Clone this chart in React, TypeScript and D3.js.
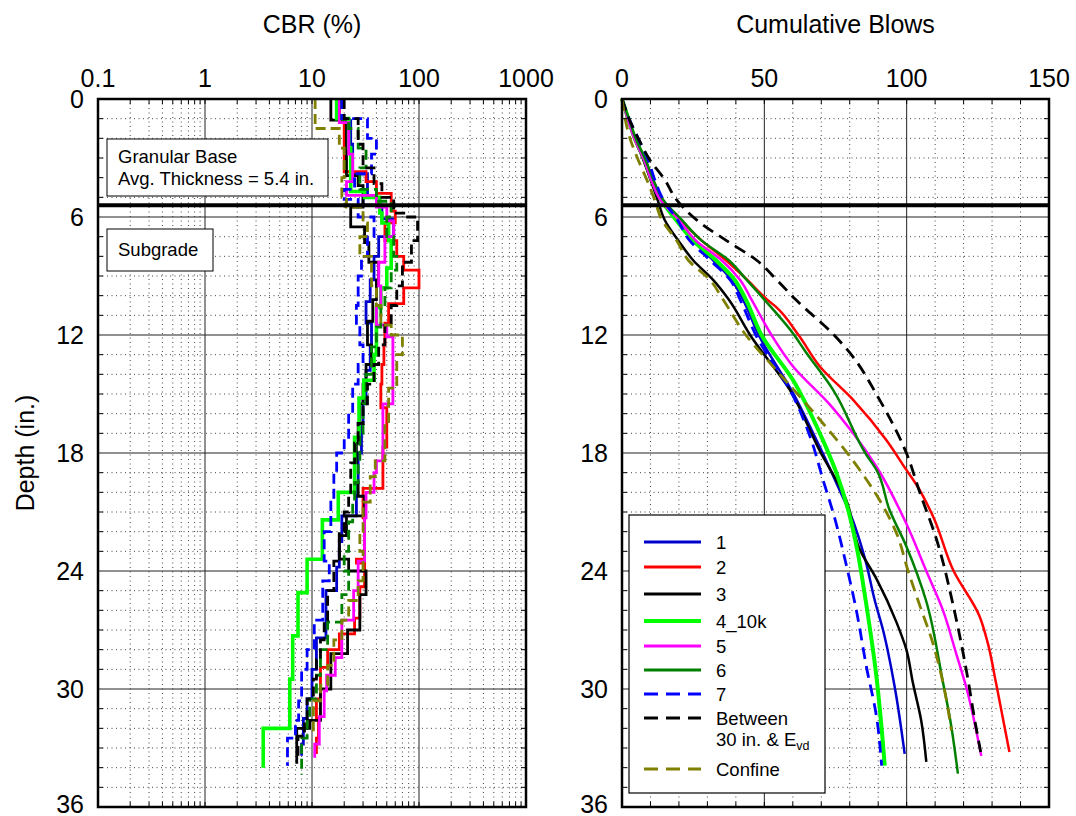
import React from 'react';
import * as d3 from 'd3';

// ---------- Data ----------
const seriesNames = ['1', '2', '3', '4_10k', '5', '6', '7', 'Between', 'Confine'];

const depthTicks = [0, 6, 12, 18, 24, 30, 36];
const cbrTicks = [0.1, 1, 10, 100, 1000];
const cbrTickLabels = ['0.1', '1', '10', '100', '1000'];
const blowTicks = [0, 50, 100, 150];
const baseThickness = 5.4;

// CBR step profiles: [depth at top of step (in.), CBR (%)]
const cbr1 = [[0,18],[1.1,23],[2.3,24],[3.8,33],[4.9,30],[5.4,45],[6.1,58],[7.0,42],[8.0,38],[9.2,35],[10.3,32],[11.4,36],[12.6,35],[13.8,32],[15.2,30],[16.5,29],[18.0,27],[19.5,26],[21.2,19],[22.5,18],[23.8,17],[25.0,13.5],[27.4,11],[29.0,10],[30.5,9],[31.5,8.3],[32.8,8]];
const cbr2 = [[0,18],[1.0,20],[3.7,32],[4.2,40],[4.8,55],[5.7,60],[6.3,48],[7.2,62],[8.0,72],[8.7,100],[9.6,72],[10.4,52],[11.4,48],[12.5,47],[13.5,45],[14.5,44],[15.7,50],[17.7,46],[19.8,30],[21.3,31],[23.4,26],[23.6,31],[24.8,28],[26.4,25],[27.2,18],[28.0,14],[28.9,12],[30.5,11],[31.5,11.5],[32.5,11]];
const cbr3 = [[0,15],[1.07,21],[3.9,27],[4.4,30],[5.5,23],[6.5,31],[7.3,34],[8.3,42],[9.2,40],[10.2,37],[11.3,33],[12.5,36],[13.5,32],[14.5,30],[15.5,28],[16.5,27],[17.5,26],[18.5,25],[19.5,27],[20.2,31],[21.2,21],[22.2,18],[23.4,22],[24.0,32],[25.2,28],[27.0,21.5],[28.2,15],[30.0,12],[31.6,9.5],[32.0,7.2]];
const cbr4 = [[0,17],[1.0,22],[2.5,23],[4.7,31],[5.0,43],[5.8,45],[6.3,52],[7.2,55],[8.6,50],[9.6,44],[10.6,40],[12.0,40],[13.0,38],[14.3,30.5],[15.2,27.5],[17.2,25],[20.0,17.6],[21.4,12.5],[23.4,9],[25.1,7.4],[27.3,6.6],[29.5,6.2],[32.0,3.5]];
const cbr5 = [[0,18],[1.2,22],[2.8,24],[4.2,21],[4.9,40],[5.5,50],[6.2,58],[7.0,48],[8.3,42],[9.5,44],[10.5,40],[11.5,50],[12.1,57],[15.5,46],[18.4,40],[19.0,38],[20.0,32],[21.3,31],[23.5,27],[25.0,24.5],[26.5,19],[28.4,16.5],[29.3,13.7],[30.1,13],[31.4,11.7],[32.8,10.6]];
const cbr6 = [[0,19],[1.0,22],[1.5,27],[2.5,32],[3.5,28],[4.6,40],[5.2,55],[6.0,50],[7.0,58],[8.0,62],[8.7,55],[9.6,48],[10.6,44],[11.6,40],[12.6,36],[14.0,32],[15.5,30],[17.0,28],[18.5,27],[19.5,25],[20.5,24],[21.5,22],[23.0,20],[24.0,22],[25.2,19],[26.6,14],[28.0,12],[29.3,11],[30.5,9.5],[31.5,9],[32.5,8]];
const cbr7 = [[0,19],[1.0,33],[2.0,40],[2.8,36],[3.8,25],[4.6,20],[5.1,27],[6.0,38],[7.0,33],[8.0,29],[9.0,27],[10.5,26],[11.5,28],[12.5,30],[13.5,27],[14.5,24],[16.0,22],[17.2,20],[18.0,17],[19.0,16],[20.5,15],[22.0,13],[23.5,14.5],[24.5,12.6],[26.5,10.5],[28.0,9],[29.0,8],[30.6,7.5],[31.6,7],[32.5,5.9]];
const cbrBetween = [[0,20],[1.0,27],[2.3,30],[3.5,38],[4.3,45],[5.0,58],[5.8,75],[6.0,97],[7.2,85],[8.3,70],[9.5,62],[10.5,55],[11.5,48],[12.5,42],[13.5,38],[14.5,33],[15.5,30],[16.5,27],[17.5,25],[18.5,23],[20.0,22],[21.0,20],[22.0,18],[23.5,16],[25.0,14],[26.5,13],[27.5,12],[28.5,11],[29.5,10.3],[30.5,9],[31.6,8.5],[32.4,7.4]];
const cbrConfine = [[0,10.7],[1.5,18],[2.5,20],[4.0,19],[5.0,21],[5.5,30],[6.3,33],[7.0,28],[8.0,36],[9.5,40],[10.5,44],[11.5,55],[12.0,70],[13.0,62],[14.7,52],[16.4,48],[18.4,39],[19.2,35],[20.5,30],[22.0,28],[23.0,30],[24.5,27],[25.5,22],[26.5,19],[27.5,16],[28.8,14],[29.8,12],[30.6,10.3]];
const cbrEndDepths = [33.4, 33.3, 33.8, 34.0, 33.5, 34.35, 33.9, 33.4, 32.2];

// Cumulative blows: [depth (in.), blows]
const blows1 = [[0,0],[1,2.2],[2,4.6],[3.1,8],[4.1,10.8],[5.13,14],[6.15,19.8],[7.2,25],[8.2,32],[9.2,38.5],[10.2,42.5],[12,48],[14.95,60.1],[17.7,69.5],[19.9,76.5],[21.2,80.5],[23.45,85.5],[25.5,88.8],[27,91.7],[29.9,95.8],[33.3,99.3]];
const blows2 = [[0,0],[1,2.2],[2,4.5],[3.1,7.8],[4.1,10.5],[5.13,14],[6.15,20.5],[7.2,28],[8.2,36.5],[9.2,44],[10.2,51],[10.56,54],[12,62],[13.6,69.5],[15.3,81.2],[17.35,92.9],[18.86,99.9],[19.6,103.4],[21.2,109.2],[24,116.5],[26.3,125.6],[27.67,128.5],[29.7,131.4],[33.2,136.1]];
const blows3 = [[0,0],[1,2],[2,4.3],[3.1,7.5],[4.1,10],[5.13,12.5],[6.15,15],[7.2,19.8],[8.2,25],[9.2,32],[10.2,37.5],[12,45],[14.8,59],[17.9,69.5],[20.4,78.8],[22.9,83.5],[24.4,89.4],[26.6,96.4],[28.0,99.9],[29.7,102.2],[31.6,105.1],[33.7,106.9]];
const blows4 = [[0,0],[1,2.2],[2,4.5],[3.1,8],[4.1,10.5],[5.13,13.8],[6.15,19],[7.2,25],[8.2,33],[9.2,39.6],[10.2,43.5],[12,49],[14.3,60.1],[17,69.5],[19,75.3],[21.2,80],[22.9,82.6],[25.5,85.6],[29.4,89.4],[33.9,92.3]];
const blows5 = [[0,0],[1,2],[2,4.3],[3.1,7.8],[4.1,10.2],[5.13,13.5],[6.15,20],[7.2,26],[8.2,35],[9.2,41.5],[10.2,45.5],[12,52.5],[13.6,60.1],[15.5,72.8],[17,81.2],[18.7,89.4],[21.6,99.9],[24,106.9],[25.98,112.7],[28.2,117.4],[29.9,120.9],[33.4,126.2]];
const blows6 = [[0,0],[1,2.4],[2,4.8],[3.1,8.3],[4.1,11],[5.13,14.5],[6.15,21],[7.2,28],[8.2,37.5],[9.2,43.8],[10.2,50],[12,60.5],[12.75,64],[14.8,74.2],[18.1,85.9],[18.86,89.4],[20.9,94],[22.75,99.9],[25.5,106.8],[29.7,112.8],[31.4,115.1],[34.3,118]];
const blows7 = [[0,0],[1,2.5],[2,5.7],[3.1,9.2],[4.1,11.5],[5.13,14.5],[6.15,19.5],[7.2,23.8],[8.2,31],[9.2,38],[10.2,41.5],[12,47],[15.1,60.1],[17.3,66.4],[19.4,70.7],[21.2,74.5],[23.7,78.8],[25.98,82.3],[28.9,85.9],[31.4,89.4],[33.9,91.2]];
const blowsBetween = [[0,0],[1,2.5],[2,5.7],[3.1,9.8],[4.1,15],[5.13,19.2],[6.15,26.2],[7.2,36.7],[8.2,47.3],[9.2,54.4],[10.2,61],[12,74.5],[12.9,80],[15.3,90.5],[18,99.9],[20,104.6],[22.4,110.5],[25.98,116.7],[29.4,121.4],[31.4,123.7],[33.2,126]];
const blowsConfine = [[0,0],[1,1.1],[2,2.8],[3.1,5.7],[4.1,8.7],[5.13,11.5],[6.15,14],[7.2,19.2],[8.2,23.3],[9.2,30.9],[10.2,35.5],[12,43.5],[13.8,54.3],[16.3,69.5],[18.4,81.2],[20.7,91.7],[22.1,96.5],[24,100.5],[25.5,104],[27.67,109.2],[29.7,112.8],[32.1,115.7]];

const cbrSeries = [cbr1, cbr2, cbr3, cbr4, cbr5, cbr6, cbr7, cbrBetween, cbrConfine];
const blowSeries = [blows1, blows2, blows3, blows4, blows5, blows6, blows7, blowsBetween, blowsConfine];

// ---------- Styles ----------
const colors = ['#0000CD', '#FF0000', '#000000', '#00FF00', '#FF00FF', '#008000', '#0000FF', '#000000', '#808000'];
const dashedRight = [false, false, false, false, false, false, true, true, true];
const dashedLeft = [false, false, false, false, false, true, true, true, true];

const FONT = 'Liberation Sans, Arial, Helvetica, sans-serif';

export default function App() {
  const L = { left: 98, right: 526, top: 99, bottom: 807 };
  const R = { left: 622, right: 1049, top: 99, bottom: 807 };

  const xCbr = d3.scaleLog().domain([0.1, 1000]).range([L.left, L.right]);
  const xBl = d3.scaleLinear().domain([0, 150]).range([R.left, R.right]);
  const y = d3.scaleLinear().domain([0, 36]).range([L.top, L.bottom]);

  const cbrMinor: number[] = [];
  for (let e = -1; e < 3; e++) for (let k = 2; k <= 9; k++) cbrMinor.push(k * Math.pow(10, e));
  const depthMinor = d3.range(1, 36).filter((d) => d % 6 !== 0);
  const blowMinor = d3.range(10, 150, 10).filter((b) => b % 50 !== 0);

  const stepPath = (steps: number[][], end: number) => {
    const pts: [number, number][] = [];
    steps.forEach((s, i) => {
      const next = i < steps.length - 1 ? steps[i + 1][0] : end;
      pts.push([xCbr(s[1]), y(s[0])]);
      pts.push([xCbr(s[1]), y(next)]);
    });
    return d3.line()(pts) as string;
  };

  const curveLine = d3
    .line<number[]>()
    .x((d) => xBl(d[1]))
    .y((d) => y(d[0]))
    .curve(d3.curveMonotoneY);

  const dot = '1,3.5';
  const gridMinor = '#444';
  const gridMajor = '#222';
  const tl = 5;

  const panelGrid = (
    P: typeof L,
    xs: number[],
    xsMajor: number[],
    xf: (v: number) => number,
    key: string
  ) => (
    <g key={key}>
      {xs.map((v) => (
        <line key={'xm' + v} x1={xf(v)} x2={xf(v)} y1={P.top} y2={P.bottom} stroke={gridMinor} strokeWidth={1} strokeDasharray={dot} />
      ))}
      {depthMinor.map((d) => (
        <line key={'ym' + d} x1={P.left} x2={P.right} y1={y(d)} y2={y(d)} stroke={gridMinor} strokeWidth={1} strokeDasharray={dot} />
      ))}
      {xsMajor.map((v) => (
        <line key={'xM' + v} x1={xf(v)} x2={xf(v)} y1={P.top} y2={P.bottom} stroke={gridMajor} strokeWidth={1} />
      ))}
      {depthTicks.slice(1, -1).map((d) => (
        <line key={'yM' + d} x1={P.left} x2={P.right} y1={y(d)} y2={y(d)} stroke={gridMajor} strokeWidth={1} />
      ))}
    </g>
  );

  const panelTicks = (P: typeof L, xs: number[], xf: (v: number) => number, key: string) => (
    <g key={key} stroke="#000" strokeWidth={1}>
      {xs.map((v) => (
        <g key={'t' + v}>
          <line x1={xf(v)} x2={xf(v)} y1={P.top} y2={P.top + tl} />
          <line x1={xf(v)} x2={xf(v)} y1={P.bottom} y2={P.bottom - tl} />
        </g>
      ))}
      {depthMinor.map((d) => (
        <g key={'d' + d}>
          <line x1={P.left} x2={P.left + tl} y1={y(d)} y2={y(d)} />
          <line x1={P.right} x2={P.right - tl} y1={y(d)} y2={y(d)} />
        </g>
      ))}
    </g>
  );

  const legendRowsY = [542, 567, 594, 621, 646, 670, 694, 718, 769];
  // the lowest depth label sits against the bottom edge; keep it inside the canvas
  const depthLabelY = (d: number) => Math.min(y(d), 804);

  return (
    <svg
      width={1076}
      height={816}
      style={{ position: 'absolute', left: 0, top: 0, background: '#fff' }}
      fontFamily={FONT}
    >
      <rect x={0} y={0} width={1076} height={816} fill="#fff" />

      {/* grids */}
      {panelGrid(L, cbrMinor.filter((v) => v > 0.1 && v < 1000), [1, 10, 100], (v) => xCbr(v), 'gl')}
      {panelGrid(R, blowMinor, [50, 100], (v) => xBl(v), 'gr')}

      {/* left panel data */}
      <g fill="none">
        {cbrSeries.map((s, i) => (
          <path
            key={'c' + i}
            d={stepPath(s, cbrEndDepths[i])}
            stroke={colors[i]}
            strokeWidth={i === 3 ? 3.6 : 2.8}
            strokeDasharray={dashedLeft[i] ? '10,5' : undefined}
            strokeLinejoin="miter"
          />
        ))}
      </g>

      {/* right panel data */}
      <g fill="none">
        {blowSeries.map((s, i) => (
          <path
            key={'b' + i}
            d={curveLine(s) as string}
            stroke={colors[i]}
            strokeWidth={i === 3 ? 4 : dashedRight[i] ? 2.8 : 2.5}
            strokeDasharray={dashedRight[i] ? '12,7' : undefined}
          />
        ))}
      </g>

      {/* base thickness line */}
      <line x1={L.left} x2={L.right} y1={y(baseThickness)} y2={y(baseThickness)} stroke="#000" strokeWidth={4} />
      <line x1={R.left} x2={R.right} y1={y(baseThickness)} y2={y(baseThickness)} stroke="#000" strokeWidth={4} />

      {/* ticks & frames */}
      {panelTicks(L, cbrMinor.filter((v) => v > 0.1 && v < 1000).concat([1, 10, 100]), (v) => xCbr(v), 'tl')}
      {panelTicks(R, blowMinor.concat([50, 100]), (v) => xBl(v), 'tr')}
      <rect x={L.left} y={L.top} width={L.right - L.left} height={L.bottom - L.top} fill="none" stroke="#000" strokeWidth={2.5} />
      <rect x={R.left} y={R.top} width={R.right - R.left} height={R.bottom - R.top} fill="none" stroke="#000" strokeWidth={2.5} />

      {/* tick labels */}
      <g fontSize={25} fill="#000">
        {cbrTicks.map((v, i) => (
          <text key={'cl' + v} x={xCbr(v)} y={87} textAnchor="middle">
            {cbrTickLabels[i]}
          </text>
        ))}
        {blowTicks.map((v) => (
          <text key={'bl' + v} x={xBl(v)} y={87} textAnchor="middle">
            {v}
          </text>
        ))}
        {depthTicks.map((d) => (
          <text key={'dl' + d} x={L.left - 14} y={depthLabelY(d)} dy="0.34em" textAnchor="end">
            {d}
          </text>
        ))}
        {depthTicks.map((d) => (
          <text key={'dr' + d} x={R.left - 14} y={depthLabelY(d)} dy="0.34em" textAnchor="end">
            {d}
          </text>
        ))}
      </g>

      {/* titles */}
      <g fontSize={25} fill="#000">
        <text x={(L.left + L.right) / 2} y={33} textAnchor="middle">CBR (%)</text>
        <text x={(R.left + R.right) / 2} y={33} textAnchor="middle">Cumulative Blows</text>
        <text transform={`translate(34,${(L.top + L.bottom) / 2}) rotate(-90)`} textAnchor="middle">Depth (in.)</text>
      </g>

      {/* annotation boxes */}
      <g fontSize={18.5} fill="#000">
        <rect x={107} y={139} width={221} height={57} fill="#fff" stroke="#000" strokeWidth={1} />
        <text x={118} y={163}>Granular Base</text>
        <text x={118} y={185}>Avg. Thickness = 5.4 in.</text>
        <rect x={107} y={229} width={106} height={42} fill="#fff" stroke="#000" strokeWidth={1} />
        <text x={118} y={256}>Subgrade</text>
      </g>

      {/* legend */}
      <g fontSize={18.5} fill="#000">
        <rect x={629} y={515} width={196} height={278} fill="#fff" stroke="#000" strokeWidth={1.2} />
        {seriesNames.map((n, i) => (
          <g key={'lg' + i}>
            <line
              x1={644}
              x2={701}
              y1={legendRowsY[i]}
              y2={legendRowsY[i]}
              stroke={colors[i]}
              strokeWidth={i === 3 ? 4 : 2.8}
              strokeDasharray={dashedRight[i] ? '14,8' : undefined}
            />
            {n === 'Between' ? (
              <>
                <text x={716} y={legendRowsY[i] + 7}>Between</text>
                <text x={716} y={legendRowsY[i] + 28}>
                  30 in. &amp; E
                  <tspan fontSize={12.5} dy={4}>vd</tspan>
                </text>
              </>
            ) : (
              <text x={716} y={legendRowsY[i] + 6.5}>{n}</text>
            )}
          </g>
        ))}
      </g>
    </svg>
  );
}
